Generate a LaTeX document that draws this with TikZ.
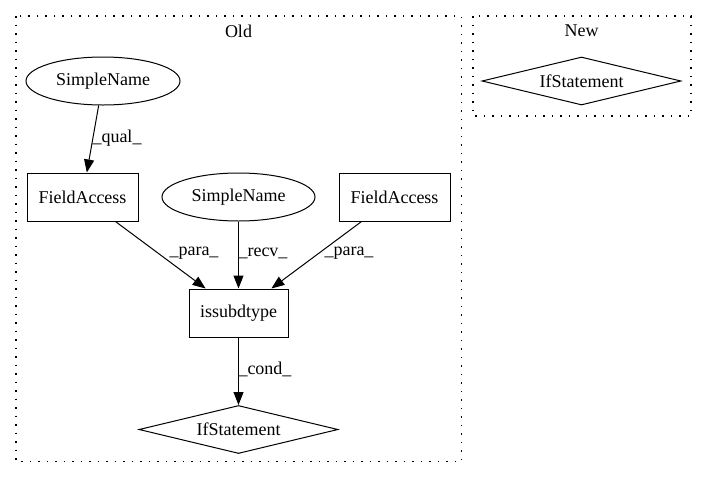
\documentclass[tikz,border=0pt]{standalone}
\usepackage{fontspec}
\setmainfont{Liberation Serif}
\usetikzlibrary{shapes.geometric,arrows.meta}
\begin{document}
\begin{tikzpicture}[x=1pt,y=-1pt,
  every node/.style={font=\fontsize{18}{20}\selectfont, inner sep=0pt},
  boxnode/.style={draw, line width=1pt, minimum width=111pt, minimum height=48pt},
  ellnode/.style={draw, ellipse, line width=1pt, minimum width=154pt, minimum height=48pt},
  dianode/.style={draw, diamond, aspect=4.15, line width=1pt, minimum width=199pt, minimum height=48pt},
  cluster/.style={draw, line width=1.2pt, dash pattern=on 1.5pt off 7pt},
  edge/.style={draw, line width=1pt, -{Triangle[length=13pt,width=10pt]}},
  elabel/.style={fill=none}]
\useasboundingbox (0,0) rectangle (707,480);
% clusters
\draw[cluster] (16,16) rectangle (461.5,461.5);
\draw[cluster] (473,16) rectangle (691,116);
\node (oldlbl) at (238.5,31) {Old};
\node (newlbl) at (581.5,31) {New};
% nodes
\node[ellnode] (sn1) at (103,81) {SimpleName};
\node[boxnode] (fa1) at (82.5,197) {FieldAccess};
\node[ellnode, minimum width=153pt] (sn2) at (238.5,197) {SimpleName};
\node[boxnode] (fa2) at (394.5,197) {FieldAccess};
\node[boxnode, minimum width=99pt] (iss) at (238.5,313) {issubdtype};
\node[dianode] (if1) at (238.5,429.5) {IfStatement};
\node[dianode] (if2) at (581.5,81) {IfStatement};
% edges
\draw[edge] (sn1) -- (fa1);
\draw[edge] (fa1) -- (iss);
\draw[edge] (sn2) -- (iss);
\draw[edge] (fa2) -- (iss);
\draw[edge] (iss) -- (if1);
% edge labels
\node[elabel] (lq) at (117,138) {\_qual\_};
\node[elabel] (lp1) at (194,253) {\_para\_};
\node[elabel] (lr) at (263,253) {\_recv\_};
\node[elabel] (lp2) at (349,253) {\_para\_};
\node[elabel] (lc) at (265,369) {\_cond\_};
\end{tikzpicture}
\end{document}
